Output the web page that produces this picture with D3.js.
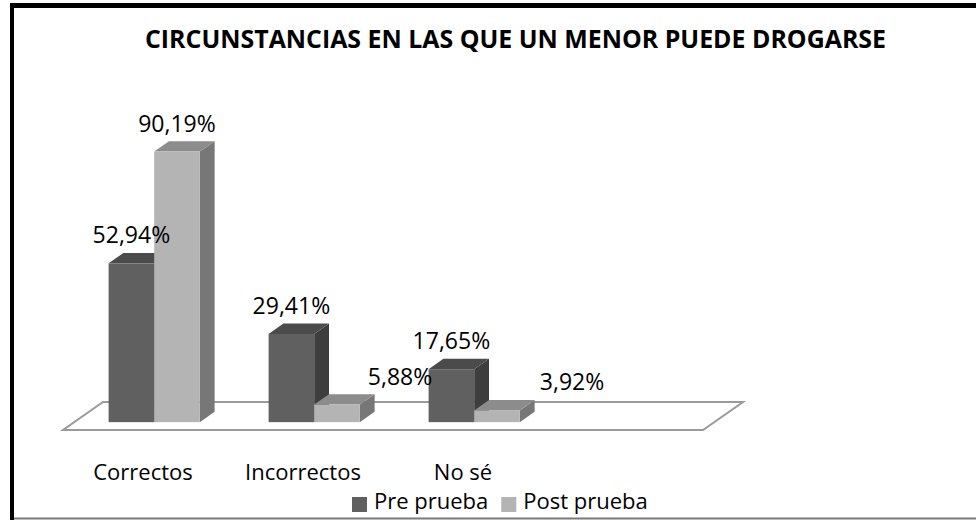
<!DOCTYPE html>
<html>
<head>
<meta charset="utf-8">
<script src="https://cdn.jsdelivr.net/npm/d3@7"></script>
<style>
  html, body { margin: 0; padding: 0; background: #fff; }
  svg { display: block; }
  text { font-family: "Open Sans", "Noto Sans", sans-serif; fill: #000; }
</style>
</head>
<body>
<div id="chart"></div>
<script>
// data
var categories = ["Correctos", "Incorrectos", "No sé", ""]; // last slot is empty, floor runs past it
var seriesNames = ["Pre prueba", "Post prueba"];
var prePrueba = [52.94, 29.41, 17.65];
var postPrueba = [90.19, 5.88, 3.92];
var valueLabels = [["52,94%", "29,41%", "17,65%"], ["90,19%", "5,88%", "3,92%"]];

var width = 976, height = 520;
var floorLeft = 63, floorRight = 703, floorFront = 430; // front edge of the floor
var depth = {dx: 40, dy: -28};   // full floor depth
var barZ0 = 0.28, barZ1 = 0.65;  // bar front/back as a fraction of floor depth
var groupFrac = 0.57;            // share of the category slot used by the two bars
var labelNudge = [[0, 0, 0], [0, 63, 75]]; // the post labels that got pushed right in the original

var colors = [
  {front: "#606060", top: "#4b4b4b", side: "#3e3e3e"},
  {front: "#b4b4b4", top: "#8c8c8c", side: "#777777"}
];

var svg = d3.select("#chart").append("svg")
  .attr("width", width)
  .attr("height", height);

// frame
svg.append("rect").attr("x", 0).attr("y", 0).attr("width", width).attr("height", height).attr("fill", "#fff");
svg.append("line").attr("x1", 12).attr("y1", 3).attr("x2", 12).attr("y2", height)
  .attr("stroke", "#000").attr("stroke-width", 4);
svg.append("line").attr("x1", 10).attr("y1", 5.5).attr("x2", width).attr("y2", 5.5)
  .attr("stroke", "#000").attr("stroke-width", 5);
svg.append("line").attr("x1", 14).attr("y1", 518.5).attr("x2", width).attr("y2", 518.5)
  .attr("stroke", "#7a7a7a").attr("stroke-width", 2);

// title
svg.append("text")
  .attr("x", 145).attr("y", 48)
  .attr("textLength", 741).attr("lengthAdjust", "spacingAndGlyphs")
  .style("font-weight", "bold").style("font-size", "25px")
  .text("CIRCUNSTANCIAS EN LAS QUE UN MENOR PUEDE DROGARSE");

var x = d3.scaleBand().domain(categories).range([floorLeft, floorRight]);
var h = d3.scaleLinear().domain([0, 100]).range([0, 300]);
var sub = d3.scaleBand().domain(seriesNames).range([0, x.bandwidth() * groupFrac]);

// floor
var fl = [
  [floorLeft, floorFront],
  [floorRight, floorFront],
  [floorRight + depth.dx, floorFront + depth.dy],
  [floorLeft + depth.dx, floorFront + depth.dy]
];
svg.append("polygon")
  .attr("points", fl.map(function(p) { return p.join(","); }).join(" "))
  .attr("fill", "#fff").attr("stroke", "#9a9a9a").attr("stroke-width", 2);

// bars, left to right, pre before post so post covers the pre side face
var bars = [];
[prePrueba, postPrueba].forEach(function(vals, s) {
  vals.forEach(function(v, i) {
    bars.push({s: s, i: i, v: v, cat: categories[i]});
  });
});
bars.sort(function(a, b) { return a.i - b.i || a.s - b.s; });

var ox = depth.dx * barZ0, oy = depth.dy * barZ0;
var bdx = depth.dx * (barZ1 - barZ0), bdy = depth.dy * (barZ1 - barZ0);

function pts(arr) { return arr.map(function(p) { return p.join(","); }).join(" "); }

var g = svg.append("g");
bars.forEach(function(d) {
  var gStart = x(d.cat) + (x.bandwidth() - x.bandwidth() * groupFrac) / 2 + ox;
  var x0 = gStart + sub(seriesNames[d.s]);
  var x1 = x0 + sub.bandwidth();
  var yb = floorFront + oy;
  var yt = yb - h(d.v);
  var c = colors[d.s];
  g.append("polygon").attr("points", pts([[x1, yt], [x1 + bdx, yt + bdy], [x1 + bdx, yb + bdy], [x1, yb]]))
    .attr("fill", c.side);
  g.append("polygon").attr("points", pts([[x0, yt], [x0 + bdx, yt + bdy], [x1 + bdx, yt + bdy], [x1, yt]]))
    .attr("fill", c.top);
  g.append("rect").attr("x", x0).attr("y", yt).attr("width", x1 - x0).attr("height", yb - yt)
    .attr("fill", c.front);
  d.cx = (x0 + x1) / 2;
  d.yt = yt;
});

// value labels
svg.append("g").selectAll("text")
  .data(bars)
  .enter()
  .append("text")
  .attr("x", function(d) { return d.cx + labelNudge[d.s][d.i]; })
  .attr("y", function(d) { return d.yt - 20; })
  .attr("text-anchor", "middle")
  .style("font-size", "23px")
  .text(function(d) { return valueLabels[d.s][d.i]; });

// category labels
svg.append("g").selectAll("text")
  .data(categories.filter(function(c) { return c !== ""; }))
  .enter()
  .append("text")
  .attr("x", function(d) { return x(d) + x.bandwidth() / 2; })
  .attr("y", 480)
  .attr("text-anchor", "middle")
  .style("font-size", "22px")
  .text(function(d) { return d; });

// legend
var legend = svg.append("g");
var lx = 0;
seriesNames.forEach(function(name, s) {
  var item = legend.append("g").attr("transform", "translate(" + lx + ",0)");
  item.append("rect").attr("x", 0).attr("y", 497).attr("width", 15).attr("height", 15)
    .attr("fill", colors[s].front);
  var t = item.append("text").attr("x", 22).attr("y", 509).style("font-size", "22px").text(name);
  lx += 22 + t.node().getComputedTextLength() + 13;
});
legend.attr("transform", "translate(" + (352) + ",0)");
</script>
</body>
</html>
